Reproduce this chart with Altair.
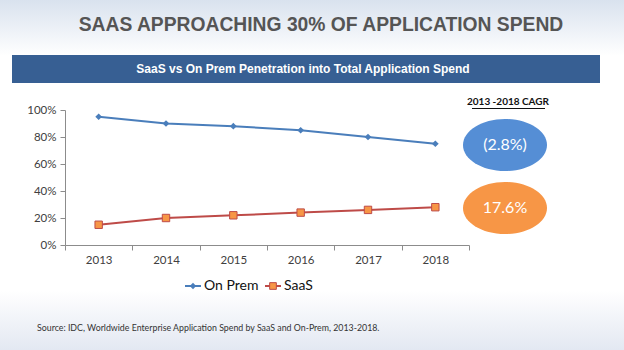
import altair as alt
import pandas as pd

years = ["2013", "2014", "2015", "2016", "2017", "2018"]
on_prem = [0.95, 0.90, 0.88, 0.85, 0.80, 0.75]
saas = [0.15, 0.20, 0.22, 0.24, 0.26, 0.28]
series = ["On Prem", "SaaS"]
cagr_labels = ["(2.8%)", "17.6%"]

title_text = "SAAS APPROACHING 30% OF APPLICATION SPEND"
banner_text = "SaaS vs On Prem Penetration into Total Application Spend"
cagr_title = "2013 -2018 CAGR"
source_text = "Source: IDC, Worldwide Enterprise Application Spend by SaaS and On-Prem, 2013-2018."

BLUE = "#4a7ebb"
RED = "#be4b48"
ORANGE = "#f79646"

df = pd.DataFrame({
    "year": years * 2,
    "value": on_prem + saas,
    "series": [series[0]] * len(years) + [series[1]] * len(years),
})
one = pd.DataFrame({"k": [0]})

W, H = 404, 135
OX, OY = 65, 110

xenc = alt.X("year:O", bandPosition=0.5,
             scale=alt.Scale(type="band", paddingInner=0, paddingOuter=0),
             axis=alt.Axis(title=None, tickBand="extent", labelAngle=0, labelFont="Lato",
                           labelFontSize=11.5, labelColor="#404040", domainColor="#8c8c8c",
                           tickColor="#8c8c8c", tickSize=5, labelPadding=4, zindex=1))
yenc = alt.Y("value:Q", scale=alt.Scale(domain=[0, 1]),
             axis=alt.Axis(title=None, format=".0%", values=[0, 0.2, 0.4, 0.6, 0.8, 1.0],
                           grid=False, labelFont="Lato", labelFontSize=11.5, labelColor="#404040",
                           domainColor="#8c8c8c", tickColor="#8c8c8c", tickSize=5,
                           labelPadding=4, zindex=1))

bg = alt.Chart(one).mark_rect(
    color=alt.Gradient(gradient="linear",
                       stops=[alt.GradientStop(color="#d9e2ee", offset=0),
                              alt.GradientStop(color="#ffffff", offset=0.16),
                              alt.GradientStop(color="#ffffff", offset=0.83),
                              alt.GradientStop(color="#e3e8f2", offset=1)],
                       x1=0, x2=0, y1=0, y2=1)
).encode(x=alt.value(-OX), x2=alt.value(624 - OX), y=alt.value(-OY), y2=alt.value(350 - OY))

title = alt.Chart(one).mark_text(font="Liberation Sans", fontWeight="bold", fontSize=19.3,
                                 color="#555555", align="center", baseline="middle").encode(
    x=alt.value(321 - OX), y=alt.value(25 - OY), text=alt.value(title_text))

banner = alt.Chart(one).mark_rect(color="#375f93").encode(
    x=alt.value(12 - OX), x2=alt.value(600 - OX), y=alt.value(55 - OY), y2=alt.value(83 - OY))
banner_t = alt.Chart(one).mark_text(font="Liberation Sans", fontWeight="bold", fontSize=12,
                                    color="white", align="center", baseline="middle").encode(
    x=alt.value(303 - OX), y=alt.value(69 - OY), text=alt.value(banner_text))

base = alt.Chart(df)
on_line = base.transform_filter(alt.datum.series == series[0]).mark_line(color=BLUE, strokeWidth=2).encode(x=xenc, y=yenc)
on_pts = base.transform_filter(alt.datum.series == series[0]).mark_point(
    shape="diamond", filled=True, color=BLUE, size=45, opacity=1).encode(x=xenc, y=yenc)
sa_line = base.transform_filter(alt.datum.series == series[1]).mark_line(color=RED, strokeWidth=2).encode(x=xenc, y=yenc)
sa_pts = base.transform_filter(alt.datum.series == series[1]).mark_point(
    shape="square", filled=True, fill=ORANGE, stroke=RED, strokeWidth=1, size=55, opacity=1).encode(x=xenc, y=yenc)

# CAGR panel
cagr_t = alt.Chart(one).mark_text(font="Lato", fontWeight="bold", fontSize=10, color="#111111",
                                  align="center", baseline="middle").encode(
    x=alt.value(508 - OX), y=alt.value(102 - OY), text=alt.value(cagr_title))
underline = alt.Chart(one).mark_rule(color="#111111", strokeWidth=1).encode(
    x=alt.value(472 - OX), x2=alt.value(545 - OX), y=alt.value(108.5 - OY))

ELL = "M-1,0 A1,0.62 0 1,0 1,0 A1,0.62 0 1,0 -1,0 Z"
ell_blue = alt.Chart(one).mark_point(shape=ELL, filled=True, color="#558ed5", opacity=1,
                                     size=84 * 84, strokeWidth=0).encode(
    x=alt.value(505 - OX), y=alt.value(145 - OY))
ell_orange = alt.Chart(one).mark_point(shape=ELL, filled=True, color="#f79646", opacity=1,
                                       size=84 * 84, strokeWidth=0).encode(
    x=alt.value(505 - OX), y=alt.value(208 - OY))
ell_t1 = alt.Chart(one).mark_text(font="Lato", fontSize=16, color="white", align="center",
                                  baseline="middle").encode(
    x=alt.value(505 - OX), y=alt.value(145 - OY), text=alt.value(cagr_labels[0]))
ell_t2 = alt.Chart(one).mark_text(font="Lato", fontSize=16, color="white", align="center",
                                  baseline="middle").encode(
    x=alt.value(505 - OX), y=alt.value(208 - OY), text=alt.value(cagr_labels[1]))

# Legend
LY = 286 - OY
leg_l1 = alt.Chart(one).mark_rule(color=BLUE, strokeWidth=2).encode(
    x=alt.value(185 - OX), x2=alt.value(201 - OX), y=alt.value(LY))
leg_p1 = alt.Chart(one).mark_point(shape="diamond", filled=True, color=BLUE, size=40, opacity=1).encode(
    x=alt.value(193 - OX), y=alt.value(LY))
leg_t1 = alt.Chart(one).mark_text(font="Lato", fontSize=14, color="#111111", align="left",
                                  baseline="middle").encode(
    x=alt.value(204 - OX), y=alt.value(LY), text=alt.value(series[0]))
leg_l2 = alt.Chart(one).mark_rule(color=RED, strokeWidth=2).encode(
    x=alt.value(265 - OX), x2=alt.value(281 - OX), y=alt.value(LY))
leg_p2 = alt.Chart(one).mark_point(shape="square", filled=True, fill=ORANGE, stroke=RED,
                                   strokeWidth=1, size=45, opacity=1).encode(
    x=alt.value(273 - OX), y=alt.value(LY))
leg_t2 = alt.Chart(one).mark_text(font="Lato", fontSize=14, color="#111111", align="left",
                                  baseline="middle").encode(
    x=alt.value(284 - OX), y=alt.value(LY), text=alt.value(series[1]))

source = alt.Chart(one).mark_text(font="Lato", fontSize=8.8, color="#333333", align="left",
                                  baseline="middle").encode(
    x=alt.value(37 - OX), y=alt.value(328 - OY), text=alt.value(source_text))

chart = alt.layer(
    bg, title, banner, banner_t,
    on_line, on_pts, sa_line, sa_pts,
    cagr_t, underline, ell_blue, ell_orange, ell_t1, ell_t2,
    leg_l1, leg_p1, leg_t1, leg_l2, leg_p2, leg_t2, source,
).properties(
    width=W, height=H,
    padding={"left": OX, "top": OY, "right": 624 - OX - W, "bottom": 350 - OY - H},
    autosize=alt.AutoSizeParams(type="none"),
    background="white",
).configure_view(stroke=None)

chart.save("out.html", embed_options={"renderer": "svg", "actions": False})
